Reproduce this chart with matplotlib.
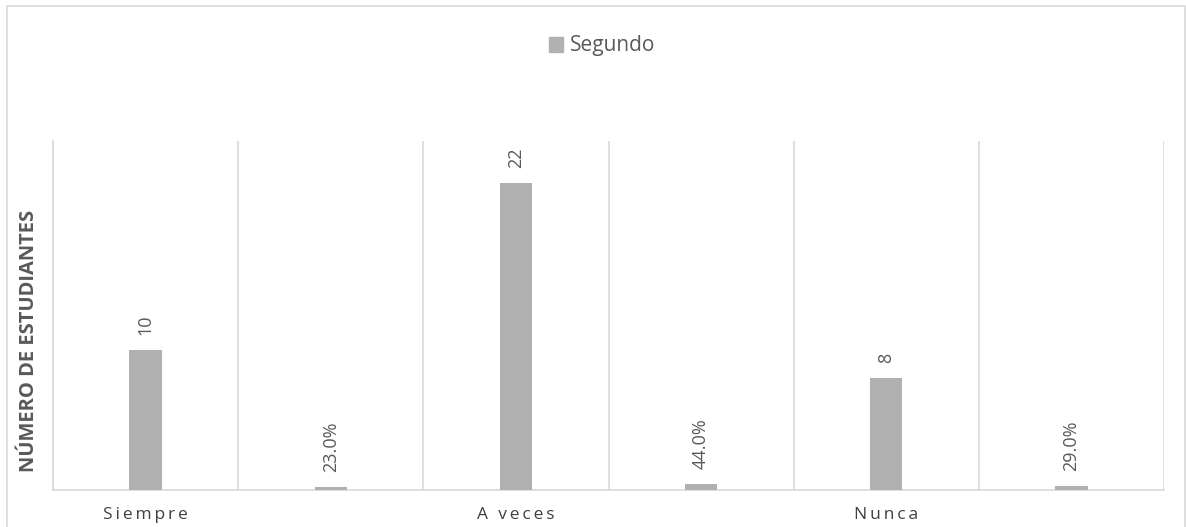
import matplotlib
matplotlib.use("Agg")
import matplotlib.pyplot as plt
from matplotlib.patches import Rectangle, Patch

plt.rcParams['font.family'] = ['Open Sans', 'DejaVu Sans']

# data
categorias = ["Siempre", "", "A veces", "", "Nunca", ""]
valores = [10, 0.23, 22, 0.44, 8, 0.29]
es_porcentaje = [False, True, False, True, False, True]
serie = "Segundo"

gris_barra = "#b0b0b0"
gris_linea = "#d9d9d9"
gris_texto = "#595959"

fig = plt.figure(figsize=(11.86, 5.27), dpi=100)
ax = fig.add_axes([53/1186, 1-490/527, (1164-53)/1186, (490-141)/527])

x = list(range(len(valores)))
bars = ax.bar(x, valores, width=0.175, color=gris_barra, zorder=3)

for xi, v, pct in zip(x, valores, es_porcentaje):
    txt = f"{v*100:.1f}%" if pct else f"{v:g}"
    ax.annotate(txt, (xi, v), xytext=(0, 11), textcoords="offset points",
                rotation=90, ha="center", va="bottom", fontsize=13, color=gris_texto)

ax.set_xlim(-0.5, len(valores) - 0.5)
ax.set_ylim(0, 25)
ax.set_yticks([])
ax.set_xticks(x)
# letras espaciadas como en el original
ax.set_xticklabels(["\u2009".join(c) if c else "" for c in categorias],
                   fontsize=12.5, color="#404040")
ax.tick_params(axis="x", length=0, pad=12)
ax.set_xticks([i - 0.5 for i in range(len(valores) + 1)], minor=True)
ax.tick_params(axis="x", which="minor", length=0)
ax.grid(True, which="minor", axis="x", color=gris_linea, linewidth=1.2, zorder=0)

for s in ["top", "right"]:
    ax.spines[s].set_visible(False)
ax.spines["left"].set_color(gris_linea)
ax.spines["bottom"].set_color(gris_linea)
ax.spines["left"].set_linewidth(1.2)
ax.spines["bottom"].set_linewidth(1.2)

fig.text(29/1186, 1-341/527, "NÚMERO DE ESTUDIANTES", rotation=90,
         ha="center", va="center", fontsize=14.5, fontweight="bold", color=gris_texto)

fig.legend(handles=[Patch(color=gris_barra, label=serie)], loc="center",
           bbox_to_anchor=(602/1186, 1-46/527), frameon=False, fontsize=15,
           handlelength=0.7, handleheight=0.7, handletextpad=0.3, labelcolor=gris_texto)

fig.patches.append(Rectangle((7/1186, -0.05), (1185-7)/1186, 1.05 - 6/527,
                             transform=fig.transFigure, fill=False,
                             edgecolor=gris_linea, linewidth=1.2))

fig.savefig("out.png", dpi=100)
